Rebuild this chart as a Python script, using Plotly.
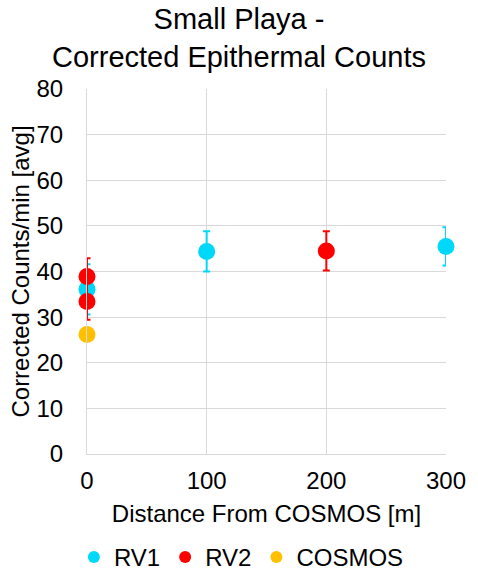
import plotly.graph_objects as go

rv1_x = [0, 100, 300]
rv1_y = [36.1, 44.4, 45.5]
rv1_err = [5.5, 4.4, 4.2]

rv2_x = [0, 0, 200]
rv2_y = [38.9, 33.4, 44.5]
rv2_err = [4.0, 4.0, 4.3]

cosmos_x = [0]
cosmos_y = [26.2]
cosmos_err = [0]

x_ticks = [0, 100, 200, 300]
y_ticks = [0, 10, 20, 30, 40, 50, 60, 70, 80]

FONT = "Liberation Sans, Arial, sans-serif"
GRID = "#d9d9d9"

fig = go.Figure()

def add(name, xs, ys, errs, color):
    fig.add_trace(go.Scatter(
        x=xs, y=ys, mode="markers", name=name,
        marker=dict(color=color, size=17, line=dict(width=0)),
        error_y=dict(type="data", array=errs, visible=True, color=color,
                     thickness=2, width=3.5),
        cliponaxis=False,
    ))

add("RV1", rv1_x, rv1_y, rv1_err, "#00D8FA")
add("RV2", rv2_x, rv2_y, rv2_err, "#FF0000")
add("COSMOS", cosmos_x, cosmos_y, cosmos_err, "#FFC000")

fig.update_layout(
    width=478, height=580,
    margin=dict(l=87, r=22, t=89, b=126),
    paper_bgcolor="white", plot_bgcolor="white",
    font=dict(family=FONT, color="#000000"),
    title=dict(text="Small Playa -<br>Corrected Epithermal Counts",
               x=0.5, xref="container", xanchor="center",
               y=0.95, yref="container", yanchor="bottom",
               font=dict(size=29, color="#000000")),
    xaxis=dict(range=[0, 300], tickvals=x_ticks, showgrid=True, gridcolor=GRID,
               gridwidth=1, zeroline=False, showline=True, linecolor=GRID,
               linewidth=1, mirror=False, ticks="",
               tickfont=dict(size=24), ticklabelstandoff=5,
               title=dict(text="Distance From COSMOS [m]", font=dict(size=24), standoff=12)),
    yaxis=dict(range=[0, 80], tickvals=y_ticks, showgrid=True, gridcolor=GRID,
               gridwidth=1, zeroline=False, showline=True, linecolor=GRID,
               linewidth=1, ticks="", tickfont=dict(size=24),
               ticklabelstandoff=18, automargin=False,
               title=dict(text="Corrected Counts/min [avg]", font=dict(size=24), standoff=0)),
    legend=dict(orientation="h", x=0.505, xref="container", xanchor="center",
                y=0.0, yref="container", yanchor="bottom",
                font=dict(size=24), itemsizing="constant", traceorder="normal",
                itemwidth=30),
    showlegend=True,
)

fig.write_html("out.html")
